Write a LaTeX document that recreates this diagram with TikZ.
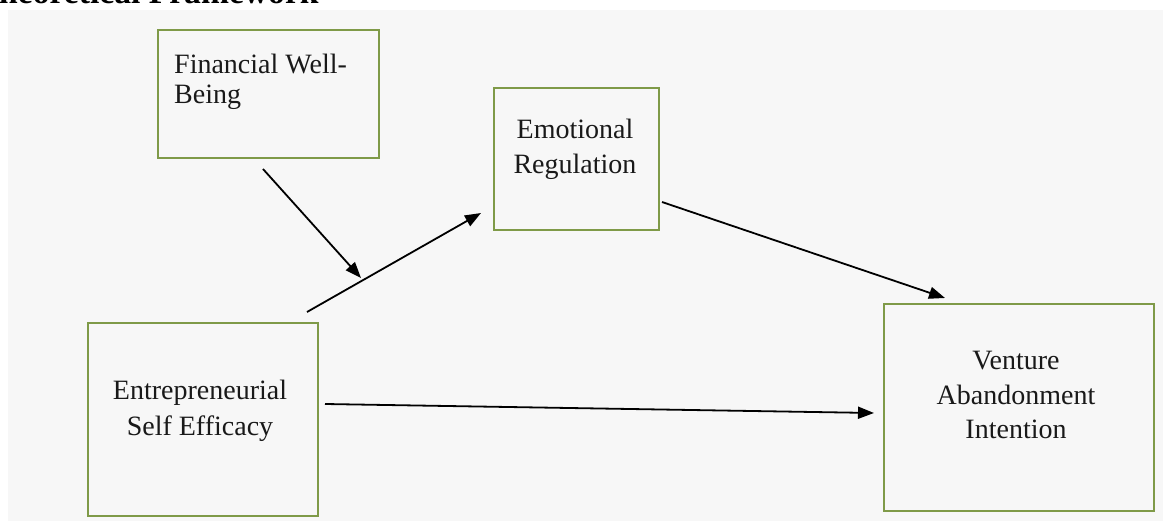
\documentclass[tikz,border=0pt]{standalone}
\usepackage{fontspec}
\setmainfont{Liberation Serif}
\usetikzlibrary{arrows.meta}
\definecolor{boxgreen}{HTML}{7F9A48}
\definecolor{bggrey}{HTML}{F7F7F7}
\begin{document}
\begin{tikzpicture}[x=1pt,y=-1pt,
  box/.style={draw=boxgreen,line width=2pt,fill=bggrey,inner sep=0pt,anchor=north west},
  lbl/.style={inner sep=0pt,align=center,text=black!90},
  arr/.style={line width=1.8pt,-{Triangle[length=16pt,width=12pt]}}]
\useasboundingbox (0,0) rectangle (1163,521);
\fill[white] (0,0) rectangle (1163,521);
\fill[bggrey] (8,10) rectangle (1163,521);
\node[anchor=base west,inner sep=0pt,font=\fontsize{33.6}{40}\selectfont\bfseries] (title) at (-1,4) {heoretical Framework};
% boxes
\node[box,minimum width=221pt,minimum height=128pt] (fwb) at (157,29) {};
\node[box,minimum width=165pt,minimum height=142pt] (er) at (493,87) {};
\node[box,minimum width=230pt,minimum height=193pt] (ese) at (87,322) {};
\node[box,minimum width=270pt,minimum height=207pt] (vai) at (883,303) {};
% texts
\node[lbl,anchor=west,align=left,font=\fontsize{28}{30}\selectfont] (fwbt) at (174,81.5) {Financial Well-\\Being};
\node[lbl,font=\fontsize{28}{35}\selectfont] (ert) at (575,149) {Emotional\\Regulation};
\node[lbl,font=\fontsize{28}{36}\selectfont] (eset) at (200,410.5) {Entrepreneurial\\Self Efficacy};
\node[lbl,font=\fontsize{28}{34.5}\selectfont] (vait) at (1016,395.3) {Venture\\Abandonment\\Intention};
% connector end points
\coordinate (a1s) at (263,169);
\coordinate (a1e) at (361,278);
\coordinate (a2s) at (307,312);
\coordinate (a2e) at (481,213);
\coordinate (a3s) at (662,202);
\coordinate (a3e) at (945,298);
\coordinate (a4s) at (325,404);
\coordinate (a4e) at (874,413);
\draw[arr] (a1s) -- (a1e);
\draw[arr] (a2s) -- (a2e);
\draw[arr] (a3s) -- (a3e);
\draw[arr] (a4s) -- (a4e);
\end{tikzpicture}
\end{document}
